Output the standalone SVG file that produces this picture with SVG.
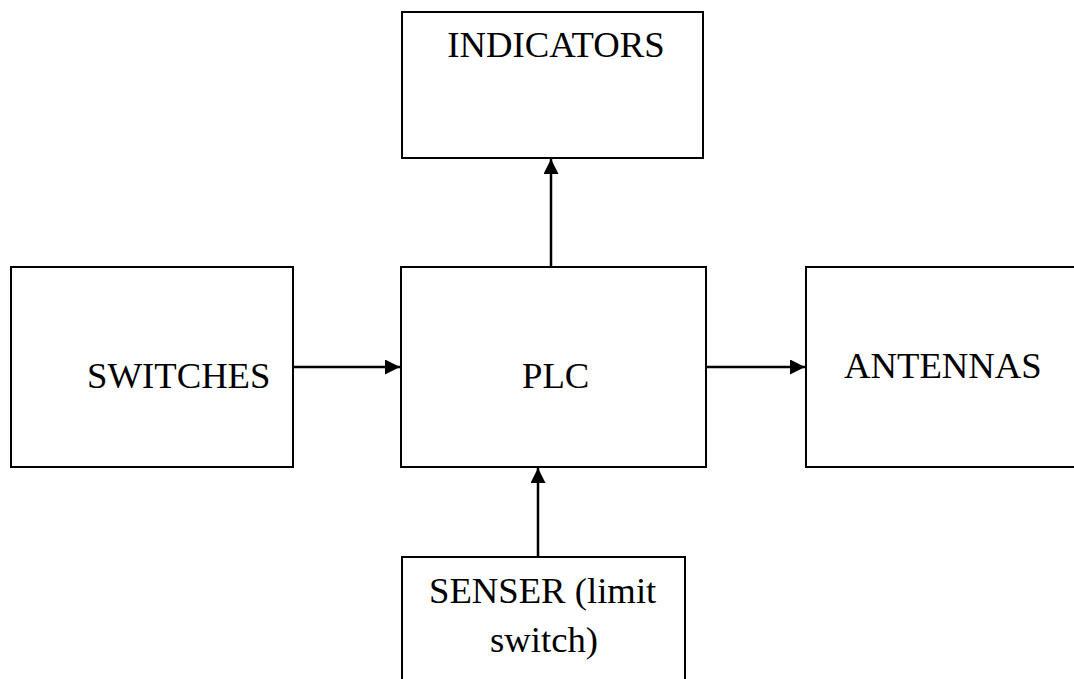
<svg xmlns="http://www.w3.org/2000/svg" width="1074" height="679" viewBox="0 0 1074 679">
<style>
.box{fill:#fff;stroke:#000;stroke-width:2}
.lbl{font-family:"Liberation Serif","Times New Roman",serif;font-size:36.7px;fill:#000}
.con{stroke:#000;stroke-width:2.5;fill:none}
</style>
<defs>
<marker id="ah" viewBox="0 0 10 10" refX="10" refY="5" markerWidth="6" markerHeight="6" markerUnits="strokeWidth" orient="auto">
<path d="M0,0 L10,5 L0,10 z" fill="#000"/>
</marker>
</defs>
<rect width="1074" height="679" fill="#fff"/>
<g id="indicators"><rect class="box" x="402" y="12" width="301" height="146"/><text class="lbl" x="556" y="57" text-anchor="middle">INDICATORS</text></g>
<g id="switches"><rect class="box" x="11" y="267" width="282" height="200"/><text class="lbl" x="87" y="388">SWITCHES</text></g>
<g id="plc"><rect class="box" x="401" y="267" width="305" height="200"/><text class="lbl" x="522" y="388">PLC</text></g>
<g id="antennas"><rect class="box" x="806" y="267" width="280" height="200"/><text class="lbl" x="844" y="378">ANTENNAS</text></g>
<g id="senser"><rect class="box" x="402" y="557" width="283" height="140"/><text class="lbl" x="429" y="603">SENSER (limit</text><text class="lbl" x="490" y="652">switch)</text></g>
<g id="connectors">
<line class="con" x1="293" y1="367" x2="400" y2="367" marker-end="url(#ah)"/>
<line class="con" x1="706" y1="367" x2="805" y2="367" marker-end="url(#ah)"/>
<line class="con" x1="551" y1="267" x2="551" y2="159" marker-end="url(#ah)"/>
<line class="con" x1="538" y1="557" x2="538" y2="468" marker-end="url(#ah)"/>
</g>
</svg>
